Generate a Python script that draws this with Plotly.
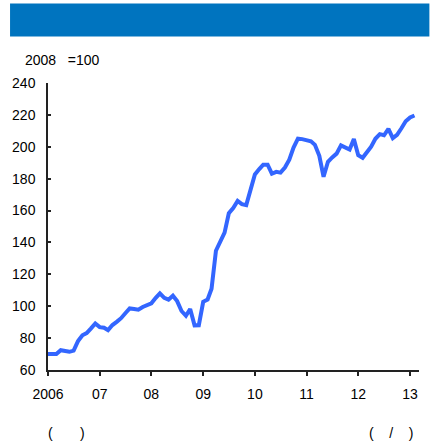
import pandas as pd
import plotly.graph_objects as go

# Data: monthly index, 2008 = 100 (Jan 2006 - Feb 2013)
start_month = '2006-01-01'
index_values = [
    70.1, 70.0, 70.0, 72.4, 72.1, 71.4, 72.2, 78.1, 81.8, 83.1, 86.1, 89.2,
    86.9, 86.5, 85.0, 88.2, 90.2, 92.5, 95.6, 98.6, 98.3, 97.8, 99.5, 100.8,
    101.8, 105.3, 108.1, 105.2, 104.1, 106.6, 103.2, 97.0, 94.0, 98.3, 88.0, 88.1,
    102.8, 104.2, 111.0, 134.8, 139.9, 146.2, 158.3, 161.6, 166.0, 164.0, 163.4, 173.1,
    182.6, 186.0, 188.8, 188.8, 183.1, 184.3, 183.8, 187.0, 191.9, 199.5, 205.1, 204.8,
    204.0, 203.4, 201.2, 194.3, 181.2, 190.6, 193.3, 195.7, 200.9, 199.4, 198.3, 204.8,
    194.7, 193.1, 196.6, 200.1, 205.0, 207.9, 207.2, 211.2, 205.4, 207.5, 211.6, 216.0,
    218.4, 219.6,
]
tick_years = ['2006', '2007', '2008', '2009', '2010', '2011', '2012', '2013']
tick_labels = ['2006', '07', '08', '09', '10', '11', '12', '13']
y_ticks = [60, 80, 100, 120, 140, 160, 180, 200, 220, 240]

dates = pd.date_range(start_month, periods=len(index_values), freq='MS')

FONT = 'Liberation Sans'
NB = '\u00a0'

fig = go.Figure(
    layout=go.Layout(
        template='plotly_white',
        width=439,
        height=445,
        margin=dict(l=48, r=20, t=83, b=75),
        showlegend=False,
        font=dict(family=FONT, size=14, color='black'),
    ))

fig.add_trace(go.Scatter(x=dates, y=index_values, mode='lines',
                         line=dict(color='#3366FF', width=4)))

fig.update_xaxes(range=['2006-01-01', '2013-03-05'],
                 tickvals=[y + '-01-01' for y in tick_years], ticktext=tick_labels,
                 showgrid=False, zeroline=False,
                 showline=True, linecolor='#222222', linewidth=1.5,
                 ticks='outside', ticklen=4, tickwidth=1.5, tickcolor='#222222',
                 tickfont=dict(family=FONT, size=14, color='black'),
                 ticklabelstandoff=6)
fig.update_yaxes(range=[60, 240], tickvals=y_ticks,
                 showgrid=False, zeroline=False,
                 showline=True, linecolor='#222222', linewidth=1.5,
                 ticks='inside', ticklen=3, tickwidth=1.5, tickcolor='#222222',
                 tickfont=dict(family=FONT, size=14, color='black'),
                 ticklabelstandoff=8)

# Blue header bar
fig.add_shape(type='rect', xref='paper', yref='paper',
              x0=-0.1023, x1=1.028, y0=1.162, y1=1.277,
              fillcolor='#0074BF', line=dict(width=0), layer='above')

fig.add_annotation(text='2008' + NB * 3 + '=100', xref='paper', yref='paper',
                   x=-0.068, y=1.08, xanchor='left', yanchor='middle',
                   showarrow=False, font=dict(family=FONT, size=14))
fig.add_annotation(text='(' + NB * 7 + ')', xref='paper', yref='paper',
                   x=-0.005, y=-0.221, xanchor='left', yanchor='middle',
                   showarrow=False, font=dict(family=FONT, size=14))
fig.add_annotation(text='(' + NB * 4 + '/' + NB * 4 + ')', xref='paper', yref='paper',
                   x=0.99, y=-0.221, xanchor='right', yanchor='middle',
                   showarrow=False, font=dict(family=FONT, size=14))

fig.update_layout(hovermode=False)
fig.write_html('out.html', config={'displayModeBar': False},
               post_script="document.body.style.margin='0';")
